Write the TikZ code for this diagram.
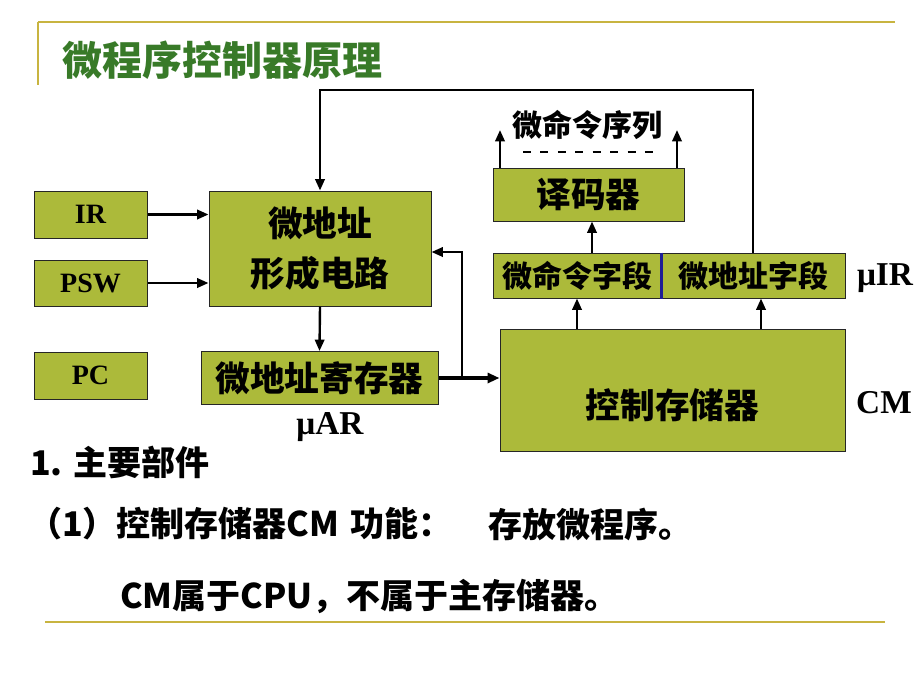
\documentclass[tikz,border=0pt]{standalone}
\usepackage{fontspec}
\setmainfont{Liberation Serif}
\newfontfamily\cjk{Noto Sans CJK SC}
\usetikzlibrary{arrows.meta}
\definecolor{boxc}{RGB}{172,186,58}
\definecolor{gold}{RGB}{200,180,64}
\definecolor{tgreen}{RGB}{56,122,40}
\definecolor{divblue}{RGB}{30,30,150}
\begin{document}
\begin{tikzpicture}[x=0.75pt,y=-0.75pt,
  box/.style={draw=black!85, line width=0.75pt, fill=boxc, inner sep=0pt, align=center},
  arr/.style={line width=1.8pt, -{Triangle[length=8.5pt,width=7pt]}},
  lat/.style={font=\bfseries\fontsize{21}{24}\selectfont},
  lbl/.style={font=\bfseries\fontsize{25}{30}\selectfont, inner sep=0pt},
  cjkbox/.style={font=\cjk\bfseries\fontsize{26}{37.5}\selectfont},
  cjksmall/.style={font=\cjk\bfseries\fontsize{22.5}{26}\selectfont},
  btxt/.style={font=\cjk\bfseries\fontsize{25.5}{30}\selectfont, anchor=west, inner sep=0pt},
  goldline/.style={draw=gold, line width=1.5pt}]
\useasboundingbox[fill=white] (0,0) rectangle (920,690);
% decorative lines
\draw[goldline] (38,22) -- (895,22);
\draw[goldline] (38,22) -- (38,85);
\draw[goldline] (45,622) -- (885,622);
% title
\node[anchor=west, inner sep=0pt, text=tgreen, font=\cjk\bfseries\fontsize{30}{34}\selectfont] (title) at (62,60) {微程序控制器原理};
% left boxes
\node[box, lat, minimum width=84.75pt, minimum height=35.25pt] (IR) at (90.5,214.5) {IR};
\node[box, lat, minimum width=84.75pt, minimum height=34.5pt] (PSW) at (90.5,283) {PSW};
\node[box, lat, minimum width=84.75pt, minimum height=35.25pt] (PC) at (90.5,375.5) {PC};
% address formation
\node[box, cjkbox, minimum width=166.5pt, minimum height=86.25pt] (form) at (320,248.5) {微地址\\形成电路};
\node[box, cjkbox, minimum width=177.75pt, minimum height=39.75pt] (reg) at (319.5,378) {微地址寄存器};
\node[lbl] (muar) at (330,427) {μAR};
% control memory
\node[box, minimum width=258.75pt, minimum height=91.5pt] (cm) at (672.5,390) {};
\node[cjkbox] (cmtxt) at (672.5,405) {控制存储器};
\node[lbl] (cmlbl) at (884,403) {CM};
% micro instruction register
\node[box, cjksmall, minimum width=126pt, minimum height=33.75pt] (mcf) at (577,275.5) {微命令字段};
\node[box, cjksmall, minimum width=138pt, minimum height=33.75pt] (maf) at (753,275.5) {微地址字段};
\draw[divblue, line width=2pt] (mcf.north east) -- (mcf.south east);
\node[lbl] (muir) at (885,278) {μIR};
% decoder
\node[box, cjkbox, minimum width=143.25pt, minimum height=39.75pt] (dec) at (588.5,194.5) {译码器};
\node[cjksmall] (seq) at (587,125) {微命令序列};
\coordinate (dl) at (523,152);
\coordinate (dr) at (653,152);
\draw[line width=1.8pt, dash pattern=on 6pt off 7.07pt] (dl) -- (dr);
% connectors
\draw[arr] (IR.east) -- (IR.east -| form.west);
\draw[arr] (PSW.east) -- (PSW.east -| form.west);
\draw[arr] (form.south) -- (reg.north);
\draw[line width=2.6pt, -{Triangle[length=9pt,width=7.5pt]}] (reg.east) -- (reg.east -| cm.west);
\coordinate (br) at (462,0 |- reg.east);
\draw[arr] (br) |- (form.east |- 0,252);
\draw[arr] (cm.north -| mcf.south) -- (mcf.south);
\draw[arr] (761,0 |- cm.north) -- (761,0 |- maf.south);
\draw[arr] (592,0 |- mcf.north) -- (592,0 |- dec.south);
\draw[arr] (500,0 |- dec.north) -- (500,130);
\draw[arr] (677,0 |- dec.north) -- (677,130);
\draw[arr] (maf.north) -- (753,90) -| (form.north);
% bottom text
\node[btxt] (l1) at (30,462) {1. 主要部件};
\node[btxt] (l2a) at (28,524) {（1）控制存储器CM};
\node[btxt] (l2b) at (350,524) {功能：};
\node[btxt] (l2c) at (488,524) {存放微程序。};
\node[btxt] (l3) at (120,596) {CM属于CPU，不属于主存储器。};
\end{tikzpicture}
\end{document}
